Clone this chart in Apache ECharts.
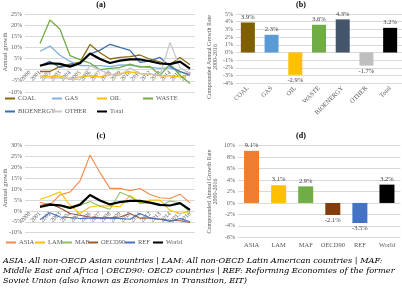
<!DOCTYPE html>
<html><head><meta charset="utf-8">
<script src="https://cdn.jsdelivr.net/npm/echarts@6/dist/echarts.min.js"></script>
<style>html,body{margin:0;padding:0;background:#fff}#c{width:402px;height:295px}</style>
</head><body><div id="c"></div>
<script>
const years = ['2000','2001','2002','2003','2004','2005','2006','2007','2008','2009','2010','2011','2012','2013','2014','2015','2016'];
// panel (a) annual growth by source, %
const coal  = [null,-0.8,-0.8,1.5,2.5,3.4,11.3,7.6,4.8,5.5,5.9,6.6,4.7,3.5,2.3,5.5,2.2];
const gas   = [null,8.3,10.6,6.5,3.7,1.9,1.8,1.8,1.4,2.2,2.0,1.5,1.0,0.6,0.8,-0.9,-2.5];
const oil   = [null,-2.8,-3.0,-2.8,-4.5,-3.2,-2.7,-3.2,-2.3,-1.8,-1.0,-1.7,-2.0,-2.8,-2.7,-3.2,-2.2];
const waste = [null,11.8,22.3,18.2,6.3,4.5,3.0,0.0,0.6,1.0,2.5,1.2,1.5,-2.5,2.5,-2.5,-6.2];
const bio   = [null,1.8,3.7,1.0,2.0,3.0,7.0,8.8,11.4,10.0,8.7,3.3,4.0,5.5,1.5,-0.8,-2.3];
const other = [null,-3.5,-3.8,-3.6,-3.8,-4.6,1.8,-0.2,-2.0,-2.5,0.8,-1.8,-2.0,-2.3,12.2,1.0,-2.0];
const total = [null,1.8,2.9,2.6,1.4,2.9,7.3,4.8,3.0,4.1,4.6,4.6,3.8,2.8,2.5,3.6,0.5];
// panel (c) annual growth by region, %
const asia  = [null,4.0,2.8,7.4,8.7,13.8,25.6,17.6,10.4,10.4,9.3,10.3,7.6,6.1,5.7,7.7,3.7];
const lam   = [null,5.4,6.9,8.8,2.6,-1.2,1.8,2.4,2.3,1.9,7.2,3.8,5.0,5.0,0.3,-1.2,-0.2];
const maf   = [null,1.8,2.6,2.3,1.0,2.6,4.3,2.2,0.8,8.6,6.6,3.4,3.8,2.3,4.6,3.8,-0.8];
const oecd  = [null,2.5,3.4,1.4,-1.2,-2.0,-2.8,-3.2,-3.2,-2.8,-1.2,-3.3,-3.3,-3.8,-4.3,-4.5,-5.3];
const ref   = [null,-4.0,-0.8,-2.8,-3.0,-3.5,-3.3,-3.3,-3.3,-3.5,-3.8,-1.2,-3.2,-3.8,-4.8,-3.5,-5.0];
const world = [null,1.8,2.9,2.6,1.4,2.9,7.3,4.8,3.0,4.1,4.6,4.6,3.8,2.8,2.5,3.6,0.5];
// panel (b) CAGR 2000-2016 by source
const catsB = ['COAL','GAS','OIL','WASTE','BIOENERGY','OTHER','Total'];
const valsB = [3.9,2.3,-2.9,3.6,4.3,-1.7,3.2];
// panel (d) CAGR 2000-2016 by region
const catsD = ['ASIA','LAM','MAF','OECD90','REF','World'];
const valsD = [9.1,3.1,2.9,-2.1,-3.5,3.2];
const titles = ['(a)','(b)','(c)','(d)'];
const yNameLine = 'Annual growth';
const yNameBar = 'Compounded Annual Growth Rate\n2000-2016';
const footLines = [
 'ASIA: All non-OECD Asian countries | LAM: All non-OECD Latin American countries | MAF:',
 'Middle East and Africa | OECD90: OECD countries | REF: Reforming Economies of the former',
 'Soviet Union (also known as Economies in Transition, EIT)'
];

const F = 'Liberation Serif';
const TC = '#595959';
const GRID = '#d9d9d9';
const colA = {COAL:'#8a6a0a',GAS:'#7fb2e0',OIL:'#ffc000',WASTE:'#70ad47',BIOENERGY:'#3d6fb0',OTHER:'#c8c8c8',Total:'#000000'};
const colB = ['#7f6000','#5b9bd5','#ffc000','#70ad47','#44546a','#bfbfbf','#000000'];
const colC = {ASIA:'#f08a4b',LAM:'#ffc000',MAF:'#8cc266',OECD90:'#9c5a32',REF:'#4472c4',World:'#000000'};
const colD = ['#ed7d31','#ffc000','#70ad47','#843c0c','#4472c4','#000000'];

const chart = echarts.init(document.getElementById('c'), null, {renderer:'canvas'});

function catAxis(gi, data, opts){
  return Object.assign({
    type:'category', gridIndex:gi, data:data, boundaryGap:true,
    axisTick:{show:false},
    axisLine:{show:false, onZero:false},
    axisLabel:{interval:0, fontFamily:F, fontSize:6, color:TC, margin:2}
  }, opts||{});
}
function valAxis(gi, min, max, iv){
  return {
    type:'value', gridIndex:gi, min:min, max:max, interval:iv,
    axisLine:{show:false}, axisTick:{show:false},
    splitLine:{lineStyle:{color:GRID, width:1}},
    axisLabel:{fontFamily:F, fontSize:6, color:TC, margin:3, formatter:v=>v+'%'}
  };
}
function lineS(name, data, color, xi, w){
  return {type:'line', name:name, xAxisIndex:xi, yAxisIndex:xi, data:data, symbol:'none',
    connectNulls:false, lineStyle:{color:color, width:w}, itemStyle:{color:color}, z: name==='Total'||name==='World'?5:3};
}
function barS(cats, vals, cols, xi, bw){
  return {type:'bar', xAxisIndex:xi, yAxisIndex:xi, barWidth:bw,
    data: vals.map((v,i)=>({value:v, itemStyle:{color:cols[i]},
      label:{show:true, position: v>=0?'top':'bottom', distance:2, formatter:p=>p.value.toFixed(1)+'%',
        fontFamily:F, fontSize:6.5, color:'#404040'}}))};
}
function legends(items, top, fontSize){
  return items.map(it=>({
    data:[it[0]], left:it[1], top:top+it[2], orient:'horizontal', padding:0,
    itemWidth:10, itemHeight:2, itemGap:2,
    textStyle:{fontFamily:F, fontSize:fontSize, color:TC, padding:[0,0,0,-2]},
    icon:'rect'
  }));
}

const series = [
  lineS('COAL', coal, colA.COAL, 0, 1.3),
  lineS('GAS', gas, colA.GAS, 0, 1.3),
  lineS('OIL', oil, colA.OIL, 0, 1.3),
  lineS('WASTE', waste, colA.WASTE, 0, 1.3),
  lineS('BIOENERGY', bio, colA.BIOENERGY, 0, 1.3),
  lineS('OTHER', other, colA.OTHER, 0, 1.3),
  lineS('Total', total, colA.Total, 0, 2.2),
  barS(catsB, valsB, colB, 1, 14),
  lineS('ASIA', asia, colC.ASIA, 2, 1.1),
  lineS('LAM', lam, colC.LAM, 2, 1.1),
  lineS('MAF', maf, colC.MAF, 2, 1.1),
  lineS('OECD90', oecd, colC.OECD90, 2, 1.1),
  lineS('REF', ref, colC.REF, 2, 1.1),
  lineS('World', world, colC.World, 2, 2.2),
  barS(catsD, valsD, colD, 3, 15)
];

const legA = legends([
  ['COAL',5,0],['GAS',52,0],['OIL',97,0],['WASTE',143,0],
  ['BIOENERGY',5,13],['OTHER',52,13],['Total',97,13]
], 95, 6.5);
const legC = legends([
  ['ASIA',6,0],['LAM',35,0],['MAF',62,0],['OECD90',88,0],['REF',125,0],['World',153,0]
], 239, 6.5);

const graphics = [];
const tpos = [[101,5],[301,5],[101,136],[301,136]];
titles.forEach((t,i)=>graphics.push({type:'text', x:tpos[i][0], y:tpos[i][1],
  style:{text:t, fontFamily:F, fontWeight:'bold', fontSize:8, fill:'#000', align:'center', verticalAlign:'middle'}}));
[[5,52,yNameLine],[5,188,yNameLine]].forEach(p=>graphics.push({type:'text', x:p[0], y:p[1], rotation:Math.PI/2,
  style:{text:p[2], fontFamily:F, fontSize:6.5, fill:TC, align:'center', verticalAlign:'middle'}}));
[[212.5,57,yNameBar],[212.5,191.5,yNameBar]].forEach(p=>graphics.push({type:'text', x:p[0], y:p[1], rotation:Math.PI/2,
  style:{text:p[2], fontFamily:F, fontSize:6, lineHeight:6.5, fill:TC, align:'center', verticalAlign:'middle'}}));
footLines.forEach((t,i)=>graphics.push({type:'text', x:3, y:260.5+i*10.3,
  style:{text:t, fontFamily:'DejaVu Serif', fontStyle:'italic', fontSize:8.2, fill:'#000', align:'left', verticalAlign:'middle'}}));

chart.setOption({
  animation:false,
  backgroundColor:'#fff',
  grid:[
    {left:25, right:207, top:14, bottom:203},
    {left:236, right:0, top:14, bottom:211.7},
    {left:25, right:207, top:145.7, bottom:62.3},
    {left:238, right:1.5, top:145.7, bottom:57.7}
  ],
  xAxis:[
    catAxis(0, years, {offset:-22.3, axisLabel:{interval:0, rotate:45, fontFamily:F, fontSize:6, color:TC, margin:2}}),
    catAxis(1, catsB, {axisLabel:{interval:0, rotate:45, fontFamily:F, fontSize:6.5, color:TC, margin:4}}),
    catAxis(2, years, {offset:-21.75, axisLabel:{interval:0, rotate:45, fontFamily:F, fontSize:6, color:TC, margin:2}}),
    catAxis(3, catsD, {axisLabel:{interval:0, fontFamily:F, fontSize:6.5, color:TC, margin:4}})
  ],
  yAxis:[
    valAxis(0,-10,25,5),
    valAxis(1,-4,5,1),
    valAxis(2,-10,30,5),
    valAxis(3,-6,10,2)
  ],
  legend:[...legA, ...legC],
  graphic:graphics,
  series:series
});
</script></body></html>
